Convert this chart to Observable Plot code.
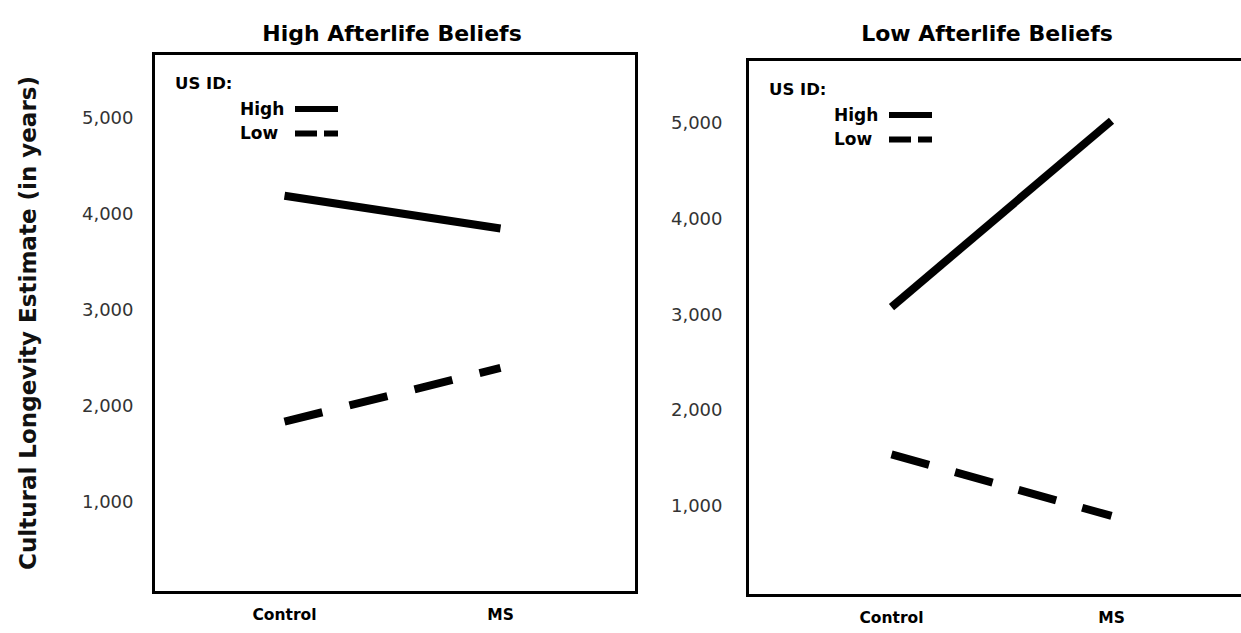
<!DOCTYPE html>
<html><head><meta charset="utf-8">
<script src="https://cdn.jsdelivr.net/npm/d3@7"></script>
<script src="https://cdn.jsdelivr.net/npm/@observablehq/plot@0.6"></script>
<style>
html,body{margin:0;padding:0;background:#fff;overflow:hidden;}
#wrap{position:relative;width:1241px;height:633px;overflow:hidden;background:#fff;}
#wrap > svg{position:absolute;top:0;background:transparent;}
</style></head><body><div id="wrap"></div>
<script>
const conditions = ["Control", "MS"];
const idLevels = ["High", "Low"];
const panelTitles = ["High Afterlife Beliefs", "Low Afterlife Beliefs"];
const highAfterlifeHighID = [4190, 3850];
const highAfterlifeLowID = [1840, 2400];
const lowAfterlifeHighID = [3080, 5030];
const lowAfterlifeLowID = [1540, 895];
const yTicks = [1000, 2000, 3000, 4000, 5000];
const yTitle = "Cultural Longevity Estimate (in years)";
const legendTitle = "US ID:";

function rows(highVals, lowVals) {
  const out = [];
  conditions.forEach((c, i) => {
    out.push({condition: c, id: idLevels[0], value: highVals[i]});
    out.push({condition: c, id: idLevels[1], value: lowVals[i]});
  });
  return out;
}

function legendMark(index, scales, values, dims) {
  const g = d3.create("svg:g")
    .attr("font-family", "DejaVu Sans").attr("font-weight", "bold").attr("fill", "#000")
    .attr("text-anchor", "start");
  const x0 = dims.marginLeft, y0 = dims.marginTop;
  g.append("text").attr("x", x0 + 22).attr("y", y0 + 30).attr("dy", "0.35em")
    .attr("font-size", 16.5).text(legendTitle);
  idLevels.forEach((id, i) => {
    const y = y0 + 56 + i * 24.5;
    g.append("text").attr("x", x0 + 87).attr("y", y).attr("dy", "0.35em")
      .attr("font-size", 17).text(id);
    const ln = g.append("line").attr("x1", x0 + 142).attr("x2", x0 + 185)
      .attr("y1", y).attr("y2", y).attr("stroke", "#000").attr("stroke-width", 6);
    if (i === 1) ln.attr("stroke-dasharray", "22,7,14,60");
  });
  return g.node();
}

function panel(cfg) {
  const data = rows(cfg.high, cfg.low);
  const marks = [
    Plot.frame({stroke: "#000", strokeWidth: 3}),
    Plot.axisY({ticks: yTicks, tickSize: 0, tickPadding: cfg.tickPadding, tickFormat: d3.format(","),
      fontSize: 18, fill: "#333", label: null}),
    Plot.axisX({tickSize: 0, tickPadding: 16, fontSize: 15.5, fontWeight: "bold", fill: "#000", label: null}),
    Plot.line(data.filter(d => d.id === idLevels[0]), {x: "condition", y: "value",
      stroke: "#000", strokeWidth: 8, strokeLinecap: "butt"}),
    Plot.line(data.filter(d => d.id === idLevels[1]), {x: "condition", y: "value",
      stroke: "#000", strokeWidth: 8, strokeLinecap: "butt", strokeDasharray: cfg.dash}),
    Plot.text([cfg.title], {frameAnchor: "top", dy: cfg.titleDy, dx: cfg.titleDx,
      fontSize: 22, fontWeight: "bold", fill: "#000"}),
    legendMark
  ];
  if (cfg.yTitle) {
    marks.push(Plot.text([yTitle], {frameAnchor: "left", textAnchor: "middle", dx: -125, rotate: -90,
      fontSize: 23, fontWeight: "bold", fill: "#111"}));
  }
  const svg = Plot.plot({
    width: cfg.width, height: 633,
    marginLeft: cfg.ml, marginRight: cfg.mr, marginTop: cfg.mt, marginBottom: cfg.mb,
    x: {type: "point", domain: conditions, range: cfg.xRange, padding: 0},
    y: {domain: [63, 5670]},
    style: {fontFamily: "DejaVu Sans", background: "transparent", color: "#000", overflow: "visible"},
    marks
  });
  svg.style.left = cfg.left + "px";
  return svg;
}

const wrap = document.getElementById("wrap");
wrap.appendChild(panel({
  left: 0, width: 680, ml: 153, mr: 44, mt: 53, mb: 41,
  xRange: [284, 500], high: highAfterlifeHighID, low: highAfterlifeLowID,
  title: panelTitles[0], titleDy: -28, titleDx: -3, tickPadding: 20, dash: "39,28", yTitle: true
}));
wrap.appendChild(panel({
  left: 620, width: 640, ml: 127, mr: 16, mt: 59, mb: 38,
  xRange: [271, 491], high: lowAfterlifeHighID, low: lowAfterlifeLowID,
  title: panelTitles[1], titleDy: -34, titleDx: -9, tickPadding: 25, dash: "39,27", yTitle: false
}));
</script></body></html>
